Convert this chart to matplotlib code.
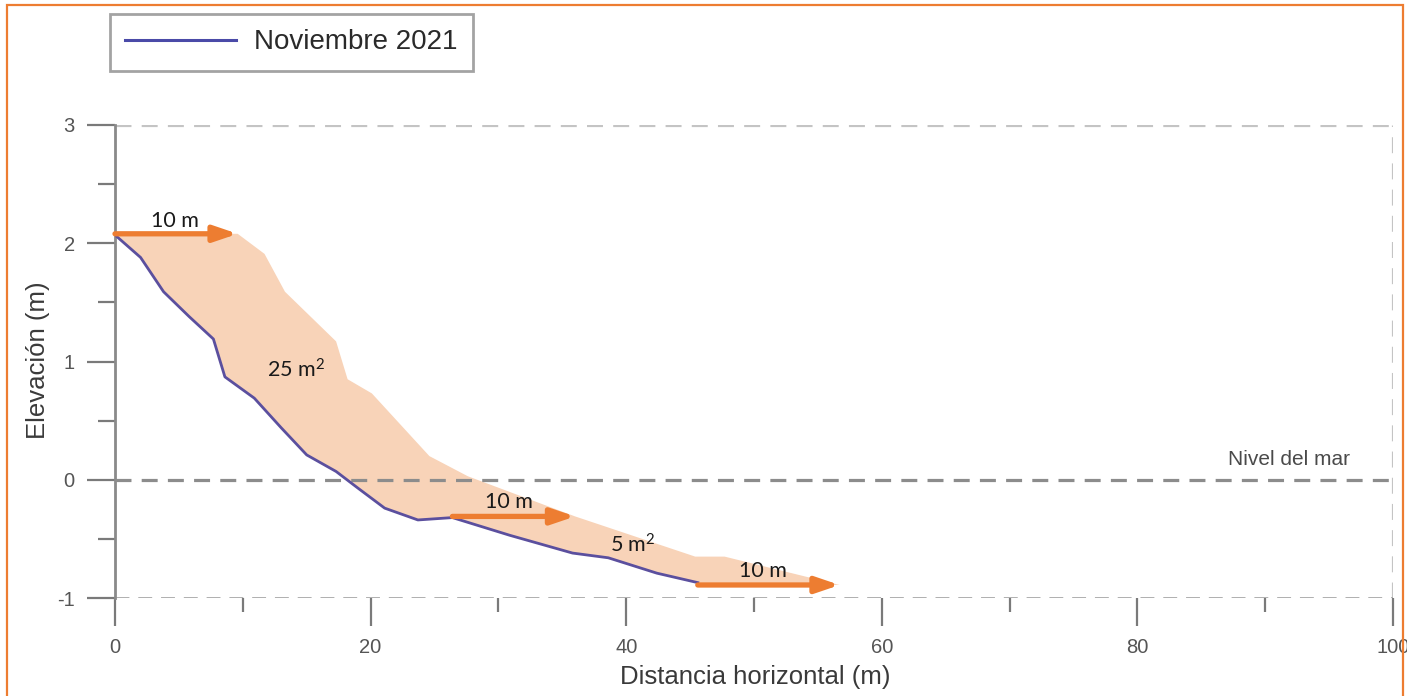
import matplotlib
matplotlib.use("Agg")
import matplotlib.pyplot as plt
from matplotlib.patches import Polygon, Rectangle
from matplotlib.lines import Line2D

plt.rcParams["mathtext.fontset"] = "custom"
plt.rcParams["mathtext.rm"] = "Lato"
plt.rcParams["mathtext.it"] = "Lato:italic"
plt.rcParams["mathtext.bf"] = "Lato:bold"

# ---- data ----
prof_x = [0, 2.0, 3.8, 5.8, 7.7, 8.6, 10.9, 13.0, 15.0, 17.3, 19.0, 21.1, 23.7, 26.4, 30.9, 35.8, 38.6, 42.4, 45.6]
prof_y = [2.07, 1.88, 1.59, 1.38, 1.19, 0.87, 0.69, 0.44, 0.21, 0.07, -0.07, -0.24, -0.34, -0.32, -0.47, -0.62, -0.66, -0.79, -0.87]

upper_x = [0, 9.6, 11.7, 13.3, 17.3, 18.2, 20.1, 24.6, 27.6, 36.0, 45.4, 47.7, 56.7]
upper_y = [2.08, 2.08, 1.91, 1.59, 1.17, 0.85, 0.73, 0.20, 0.03, -0.31, -0.65, -0.65, -0.89]

arrow_start_x = [0, 26.4, 45.6]
arrow_end_x = [9.6, 36.0, 56.7]
arrow_y = [2.08, -0.31, -0.89]
arrow_labels = ["10 m", "10 m", "10 m"]
arrow_label_x = [4.7, 30.8, 50.7]
arrow_label_y = [2.19, -0.19, -0.77]

area_labels = ["25 m$^{2}$", "5 m$^{2}$"]
area_label_x = [14.2, 40.5]
area_label_y = [0.93, -0.55]

x_major = [0, 20, 40, 60, 80, 100]
x_minor = [10, 30, 50, 70, 90]
y_major = [-1, 0, 1, 2, 3]
y_minor = [-0.5, 0.5, 1.5, 2.5]

series_label = "Noviembre 2021"
sea_label = "Nivel del mar"
xlabel = "Distancia horizontal (m)"
ylabel = "Elevación (m)"

# ---- figure ----
W, H = 1407, 696
fig = plt.figure(figsize=(W / 100, H / 100), dpi=100)
ax = fig.add_axes([115 / W, 1 - 598 / H, 1278 / W, (598 - 125) / H])
ax.set_xlim(0, 100)
ax.set_ylim(-1, 3)

sans = ["Liberation Sans", "DejaVu Sans"]
cal = ["Lato", "DejaVu Sans"]

# fill polygon between upper envelope and profile
poly_pts = list(zip(upper_x, upper_y)) + [(arrow_start_x[2], arrow_y[2])] + list(zip(prof_x[::-1], prof_y[::-1]))
ax.add_patch(Polygon(poly_pts, closed=True, facecolor="#f8d3b8", edgecolor="none", zorder=2))

# reference dashed lines
dash = (0, (5, 3.2))
ax.axhline(3, color="#c4c4c4", lw=2.3, linestyle=dash, zorder=1)
ax.axvline(100, color="#c4c4c4", lw=2.3, linestyle=dash, zorder=1)
ax.axhline(0, color="#8c8c8c", lw=2.3, linestyle=dash, zorder=3)
ax.axhline(-1, color="#a8a8a8", lw=2.0, linestyle=dash, zorder=1)

# profile line
ax.plot(prof_x, prof_y, color="#5b4f9e", lw=2.0, zorder=4, label=series_label)

# arrows
for xs, xe, y in zip(arrow_start_x, arrow_end_x, arrow_y):
    ax.annotate("", xy=(xe, y), xytext=(xs, y),
                arrowprops=dict(arrowstyle="-|>,head_length=1.0,head_width=0.34",
                                mutation_scale=14, lw=3.8, color="#ed7d31",
                                shrinkA=0, shrinkB=0),
                zorder=5, annotation_clip=False)

for lab, x, y in zip(arrow_labels, arrow_label_x, arrow_label_y):
    ax.text(x, y, lab, ha="center", va="center", fontsize=15.5, family=cal, color="#1a1a1a", zorder=6)
for lab, x, y in zip(area_labels, area_label_x, area_label_y):
    ax.text(x, y, lab, ha="center", va="center", fontsize=15.5, family=cal, color="#1a1a1a", zorder=6)

ax.text(96.6, 0.17, sea_label, ha="right", va="center", fontsize=15, family=sans, color="#4a4a4a")

# spines & ticks
for s in ["top", "right", "bottom"]:
    ax.spines[s].set_visible(False)
ax.spines["left"].set_color("#8a8a8a")
ax.spines["left"].set_linewidth(2.0)

ax.set_xticks(x_major)
ax.set_xticks(x_minor, minor=True)
ax.set_yticks(y_major)
ax.set_yticks(y_minor, minor=True)
ax.set_xticklabels([str(v) for v in x_major])
ax.set_yticklabels([str(v) for v in y_major])
ax.tick_params(axis="x", which="major", length=20, width=1.6, color="#7a7a7a", pad=9,
               labelsize=14.5, labelcolor="#555555")
ax.tick_params(axis="x", which="minor", length=10, width=1.6, color="#7a7a7a")
ax.tick_params(axis="y", which="major", length=20, width=1.6, color="#7a7a7a", pad=9,
               labelsize=14.5, labelcolor="#555555")
ax.tick_params(axis="y", which="minor", length=12, width=1.6, color="#7a7a7a")
for lbl in ax.get_xticklabels() + ax.get_yticklabels():
    lbl.set_family(sans)

ax.set_xlabel(xlabel, fontsize=18.5, family=sans, color="#3a3a3a")
ax.set_ylabel(ylabel, fontsize=18.5, family=sans, color="#3a3a3a")
ax.xaxis.set_label_coords((755 - 115) / 1278, -(665 - 598) / 473)
ax.yaxis.set_label_coords(-(115 - 50) / 1278, (598 - 360) / 473)

# legend
handle = Line2D([], [], color="#4a4aa8", lw=2.2)
leg = ax.legend([handle], [series_label], loc="upper left",
                bbox_to_anchor=(110 / W, 1 - 14 / H), bbox_transform=fig.transFigure,
                frameon=True, fancybox=False, prop={"family": sans, "size": 20},
                handlelength=4.0, handletextpad=0.65, borderpad=0.55, borderaxespad=0)
leg.get_frame().set_edgecolor("#8c8c8c")
leg.get_frame().set_linewidth(2.0)
for t in leg.get_texts():
    t.set_color("#2a2a2a")

# orange outer border
fig.patches.append(Rectangle((7 / W, -0.02), (1403 - 7) / W, 1.02 - 5 / H,
                             transform=fig.transFigure, fill=False,
                             edgecolor="#ed7d31", lw=1.6, zorder=10))

fig.savefig("out.png", dpi=100)
